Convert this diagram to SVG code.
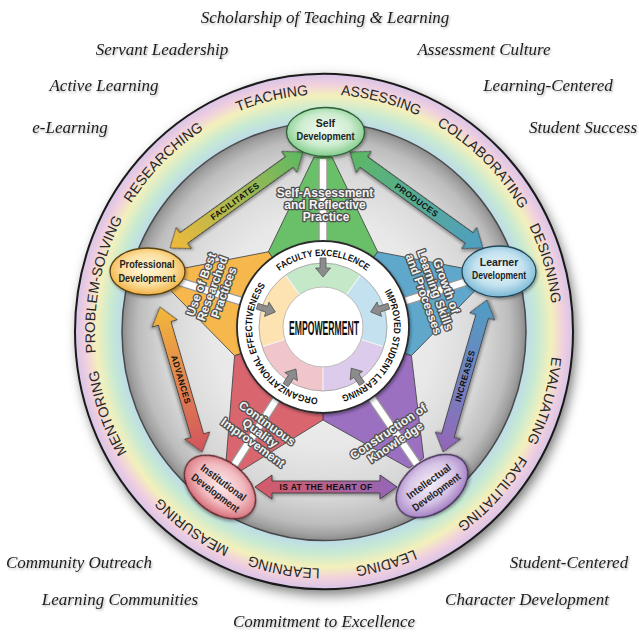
<svg xmlns="http://www.w3.org/2000/svg" width="639" height="633" viewBox="0 0 639 633">
<defs>
<style>
.sc{font-family:"Liberation Serif","DejaVu Serif",serif;font-style:italic;font-size:17px;fill:#1e1e1e;text-anchor:middle;filter:url(#tshadow)}
.rt{font-family:"Liberation Sans",Arial,sans-serif;font-size:14px;fill:#262626;text-anchor:middle}
.wt{font-family:"Liberation Sans",Arial,sans-serif;font-weight:bold;font-size:9.5px;fill:#111;text-anchor:middle}
.wl{font-family:"Liberation Sans",Arial,sans-serif;font-weight:bold;font-size:12px;fill:#f2f2f2;stroke:#505050;stroke-width:2.6px;paint-order:stroke;stroke-linejoin:round;text-anchor:middle}
.al{font-family:"Liberation Sans",Arial,sans-serif;font-weight:bold;font-size:8.5px;fill:#111;text-anchor:middle;letter-spacing:0.4px}
.nt{font-family:"Liberation Sans",Arial,sans-serif;font-weight:bold;font-size:10.5px;fill:#222;text-anchor:middle}
.arr{stroke:#3c3c3c;stroke-width:0.9;stroke-linejoin:round;filter:url(#ds)}
.wedge{stroke:#4a4a4a;stroke-width:0.9;stroke-linejoin:round}
.stripeB{stroke:#9a9a9a;stroke-width:9;stroke-linecap:butt}
.stripeW{stroke:#ffffff;stroke-width:6.5;stroke-linecap:butt}
.ga{fill:#8c8c8c;stroke:#5a5a5a;stroke-width:0.8;stroke-linejoin:round}
.node{stroke-width:1.3;filter:url(#ds)}
</style>
<filter id="rshadow" x="-10%" y="-10%" width="125%" height="125%">
<feDropShadow dx="3" dy="5" stdDeviation="6" flood-color="#000" flood-opacity="0.55"/>
</filter>
<filter id="ds" x="-20%" y="-20%" width="150%" height="150%">
<feDropShadow dx="1.2" dy="1.8" stdDeviation="1.4" flood-color="#000" flood-opacity="0.35"/>
</filter>
<filter id="tshadow" x="-5%" y="-20%" width="110%" height="150%">
<feDropShadow dx="1" dy="1.5" stdDeviation="0.8" flood-color="#000" flood-opacity="0.3"/>
</filter>
<radialGradient id="rainbow" gradientUnits="userSpaceOnUse" cx="0" cy="0" r="249">
<stop offset="0.81" stop-color="#bcdbe8"/>
<stop offset="0.86" stop-color="#c8ead2"/>
<stop offset="0.915" stop-color="#f3f0bb"/>
<stop offset="0.96" stop-color="#f1d0de"/>
<stop offset="1" stop-color="#d8c3e8"/>
</radialGradient>
<radialGradient id="inner" gradientUnits="userSpaceOnUse" cx="0" cy="0" r="202">
<stop offset="0" stop-color="#f3f3f3"/>
<stop offset="0.55" stop-color="#e8e8e8"/>
<stop offset="0.8" stop-color="#d6d6d6"/>
<stop offset="0.92" stop-color="#bdbdbd"/>
<stop offset="0.97" stop-color="#a2a2a2"/>
<stop offset="1" stop-color="#8a8a8a"/>
</radialGradient>
<linearGradient id="gFac" x1="0" y1="0" x2="1" y2="0"><stop offset="0" stop-color="#f2b93b"/><stop offset="1" stop-color="#5db863"/></linearGradient>
<linearGradient id="gProd" x1="0" y1="0" x2="1" y2="0"><stop offset="0" stop-color="#5db863"/><stop offset="1" stop-color="#4f9ec4"/></linearGradient>
<linearGradient id="gInc" x1="0" y1="0" x2="1" y2="0"><stop offset="0" stop-color="#9466b8"/><stop offset="1" stop-color="#4f9ec4"/></linearGradient>
<linearGradient id="gAdv" x1="0" y1="0" x2="1" y2="0"><stop offset="0" stop-color="#f2b93b"/><stop offset="1" stop-color="#d2535e"/></linearGradient>
<linearGradient id="gHeart" x1="0" y1="0" x2="1" y2="0"><stop offset="0" stop-color="#d65a66"/><stop offset="1" stop-color="#9466b8"/></linearGradient>
<radialGradient id="nSelf" cx="0.5" cy="0.45" r="0.55"><stop offset="0" stop-color="#f2fbf2"/><stop offset="0.6" stop-color="#cdeccf"/><stop offset="1" stop-color="#80cc8a"/></radialGradient>
<radialGradient id="nProf" cx="0.5" cy="0.45" r="0.55"><stop offset="0" stop-color="#fff8dc"/><stop offset="0.6" stop-color="#fbe0a0"/><stop offset="1" stop-color="#f1b144"/></radialGradient>
<radialGradient id="nLearn" cx="0.5" cy="0.45" r="0.55"><stop offset="0" stop-color="#eef8fc"/><stop offset="0.6" stop-color="#c3e2ef"/><stop offset="1" stop-color="#7ab8d5"/></radialGradient>
<radialGradient id="nInst" cx="0.5" cy="0.45" r="0.55"><stop offset="0" stop-color="#fdeaeb"/><stop offset="0.6" stop-color="#f1babf"/><stop offset="1" stop-color="#d66d77"/></radialGradient>
<radialGradient id="nIntel" cx="0.5" cy="0.45" r="0.55"><stop offset="0" stop-color="#f5eef9"/><stop offset="0.6" stop-color="#d6c3e6"/><stop offset="1" stop-color="#a37fc3"/></radialGradient>
<path id="garrow" d="M0,-3 L10,-3 L10,-7.5 L19,0 L10,7.5 L10,3 L0,3 Z"/>
<path id="ringPath" d="M-85.78,212.33 A229,229 0 1,1 85.78,-212.33 A229,229 0 1,1 -85.78,212.33"/>
<path id="wFac" d="M261.51,291.5 A71,71 0 0,1 384.49,291.5"/>
<path id="wImp" d="M377.39,281.36 A71,71 0 0,1 329.19,397.73"/>
<path id="wOrg" d="M329.19,397.73 A71,71 0 0,1 272.8,276.8"/>
</defs>

<rect width="639" height="633" fill="#ffffff"/>

<g id="outer-words">
<text class="sc" x="325" y="23">Scholarship of Teaching &amp; Learning</text>
<text class="sc" x="162" y="55">Servant Leadership</text>
<text class="sc" x="484" y="55">Assessment Culture</text>
<text class="sc" x="104" y="91">Active Learning</text>
<text class="sc" x="548" y="91">Learning-Centered</text>
<text class="sc" x="70" y="133">e-Learning</text>
<text class="sc" x="583" y="133">Student Success</text>
<text class="sc" x="79" y="568">Community Outreach</text>
<text class="sc" x="569" y="568">Student-Centered</text>
<text class="sc" x="120" y="605">Learning Communities</text>
<text class="sc" x="527" y="605">Character Development</text>
<text class="sc" x="324" y="627">Commitment to Excellence</text>
</g>

<g id="ring" transform="translate(324,331.5) scale(1,1.035)">
<circle r="249" fill="url(#rainbow)" filter="url(#rshadow)"/>
<circle r="249" fill="none" stroke="#1a1a1a" stroke-width="2"/>
<circle r="202" fill="url(#inner)" stroke="#4a4a4a" stroke-width="1.5"/>
<text class="rt"><textPath href="#ringPath" startOffset="40.28%">TEACHING</textPath></text>
<text class="rt"><textPath href="#ringPath" startOffset="47.86%">ASSESSING</textPath></text>
<text class="rt"><textPath href="#ringPath" startOffset="56.19%">COLLABORATING</textPath></text>
<text class="rt"><textPath href="#ringPath" startOffset="64.3%">DESIGNING</textPath></text>
<text class="rt"><textPath href="#ringPath" startOffset="73.58%">EVALUATING</textPath></text>
<text class="rt"><textPath href="#ringPath" startOffset="80.83%">FACILITATING</textPath></text>
<text class="rt"><textPath href="#ringPath" startOffset="89.58%">LEADING</textPath></text>
<text class="rt"><textPath href="#ringPath" startOffset="96.67%">LEARNING</textPath></text>
<text class="rt"><textPath href="#ringPath" startOffset="3.61%">MEASURING</textPath></text>
<text class="rt"><textPath href="#ringPath" startOffset="13.33%">MENTORING</textPath></text>
<text class="rt"><textPath href="#ringPath" startOffset="22.11%">PROBLEM-SOLVING</textPath></text>
<text class="rt"><textPath href="#ringPath" startOffset="31.53%">RESEARCHING</textPath></text>
</g>

<g id="beams">
<polygon class="wedge" fill="#6abf69" points="314,157 332,157 377.7,251.8 323,327 268.3,251.8"/>
<polygon class="wedge" fill="#f6b84c" points="173.1,270.3 167.7,287.5 234.6,355.7 323,327 268.3,251.8"/>
<polygon class="wedge" fill="#5fa8cc" points="472.8,270.1 478.2,287.3 411.4,355.7 323,327 377.7,251.8"/>
<polygon class="wedge" fill="#9b70c1" points="408.9,468.2 423.7,458 411.4,355.7 323,327 323,420"/>
<polygon class="wedge" fill="#d9656f" points="226.1,460.8 241.3,470.6 323,420 323,327 234.6,355.7"/>
<g>
<line class="stripeB" x1="323" y1="159" x2="323" y2="241"/>
<line class="stripeB" x1="480.3" y1="277.2" x2="405" y2="301.1"/>
<line class="stripeB" x1="418" y1="465.6" x2="371.6" y2="397.9"/>
<line class="stripeB" x1="232.1" y1="468.3" x2="276.4" y2="399.3"/>
<line class="stripeB" x1="165.6" y1="277.4" x2="241" y2="301.1"/>
<line class="stripeW" x1="323" y1="159" x2="323" y2="241"/>
<line class="stripeW" x1="480.3" y1="277.2" x2="405" y2="301.1"/>
<line class="stripeW" x1="418" y1="465.6" x2="371.6" y2="397.9"/>
<line class="stripeW" x1="232.1" y1="468.3" x2="276.4" y2="399.3"/>
<line class="stripeW" x1="165.6" y1="277.4" x2="241" y2="301.1"/>
</g>
</g>

<g id="empowerment">
<circle cx="323" cy="327" r="86" fill="#ffffff" stroke="#2a2a2a" stroke-width="1.8" filter="url(#ds)"/>
<path fill="#c4e8c8" d="M323,327 L285.38,275.22 A64,64 0 0,1 360.62,275.22 Z"/>
<path fill="#c3e1ee" d="M323,327 L360.62,275.22 A64,64 0 0,1 383.87,346.78 Z"/>
<path fill="#dccbea" d="M323,327 L383.87,346.78 A64,64 0 0,1 323,391 Z"/>
<path fill="#f1c6cb" d="M323,327 L323,391 A64,64 0 0,1 262.13,346.78 Z"/>
<path fill="#fde2b2" d="M323,327 L262.13,346.78 A64,64 0 0,1 285.38,275.22 Z"/>
<g stroke="#f4f4f4" stroke-width="1.2">
<line x1="323" y1="327" x2="285.38" y2="275.22"/>
<line x1="323" y1="327" x2="360.62" y2="275.22"/>
<line x1="323" y1="327" x2="383.87" y2="346.78"/>
<line x1="323" y1="327" x2="323" y2="391"/>
<line x1="323" y1="327" x2="262.13" y2="346.78"/>
</g>
<circle cx="323" cy="327" r="64" fill="none" stroke="#999" stroke-width="0.8"/>
<circle cx="323" cy="327" r="40" fill="#ffffff" stroke="#bdbdbd" stroke-width="1"/>
<use href="#garrow" class="ga" transform="translate(323,258) rotate(90)"/>
<use href="#garrow" class="ga" transform="translate(388.8,306.2) rotate(162.44)"/>
<use href="#garrow" class="ga" transform="translate(362,383.9) rotate(235.57)"/>
<use href="#garrow" class="ga" transform="translate(285.65,385) rotate(302.77)"/>
<use href="#garrow" class="ga" transform="translate(257.2,306.25) rotate(17.5)"/>
<text x="324" y="335" font-family="Liberation Sans, Arial, sans-serif" font-weight="bold" font-size="21" fill="#111" text-anchor="middle" textLength="70" lengthAdjust="spacingAndGlyphs">EMPOWERMENT</text>
<text class="wt"><textPath href="#wFac" startOffset="50%" textLength="94" lengthAdjust="spacingAndGlyphs">FACULTY EXCELLENCE</textPath></text>
<text class="wt"><textPath href="#wImp" startOffset="50%" textLength="130" lengthAdjust="spacingAndGlyphs">IMPROVED STUDENT LEARNING</textPath></text>
<text class="wt"><textPath href="#wOrg" startOffset="50%" textLength="151" lengthAdjust="spacingAndGlyphs">ORGANIZATIONAL EFFECTIVENESS</textPath></text>
</g>

<g id="beam-labels">
<text class="wl" x="325" y="197">Self-Assessment</text>
<text class="wl" x="325" y="209">and Reflective</text>
<text class="wl" x="326" y="221">Practice</text>
<g transform="translate(212.5,288.5) rotate(-70)">
<text class="wl" x="0" y="-8">Use of Best</text>
<text class="wl" x="0" y="4">Researched</text>
<text class="wl" x="0" y="16">Practices</text>
</g>
<g transform="translate(435,290) rotate(70)">
<text class="wl" x="0" y="-8">Growth of</text>
<text class="wl" x="0" y="4">Learning Skills</text>
<text class="wl" x="0" y="16">and Processes</text>
</g>
<g transform="translate(260,433) rotate(36)">
<text class="wl" x="0" y="-8">Continuous</text>
<text class="wl" x="0" y="4">Quality</text>
<text class="wl" x="0" y="16">Improvement</text>
</g>
<g transform="translate(392,437) rotate(-34)">
<text class="wl" x="0" y="-2.5">Construction of</text>
<text class="wl" x="0" y="10.5">Knowledge</text>
</g>
</g>

<g id="connectors">
<g transform="translate(236.5,200) rotate(-35.8)">
<path class="arr" fill="url(#gFac)" d="M-82,0 L-65,-13 L-65,-6.5 L65,-6.5 L65,-13 L82,0 L65,13 L65,6.5 L-65,6.5 L-65,13 Z"/>
<text class="al" x="-2" y="3">FACILITATES</text>
</g>
<g transform="translate(416.5,200) rotate(35.8)">
<path class="arr" fill="url(#gProd)" d="M-82,0 L-65,-13 L-65,-6.5 L65,-6.5 L65,-13 L82,0 L65,13 L65,6.5 L-65,6.5 L-65,13 Z"/>
<text class="al" x="0" y="3">PRODUCES</text>
</g>
<g transform="translate(465,376) rotate(-73.9)">
<path class="arr" fill="url(#gInc)" d="M-79,0 L-62,-13 L-62,-6.5 L62,-6.5 L62,-13 L79,0 L62,13 L62,6.5 L-62,6.5 L-62,13 Z"/>
<text class="al" x="0" y="3">INCREASES</text>
</g>
<g transform="translate(181,379.5) rotate(73.8)">
<path class="arr" fill="url(#gAdv)" d="M-75.5,0 L-58.5,-13 L-58.5,-6.5 L58.5,-6.5 L58.5,-13 L75.5,0 L58.5,13 L58.5,6.5 L-58.5,6.5 L-58.5,13 Z"/>
<text class="al" x="0" y="3">ADVANCES</text>
</g>
<g transform="translate(326,487)">
<path class="arr" fill="url(#gHeart)" d="M-71,0 L-54,-12 L-54,-6 L54,-6 L54,-12 L71,0 L54,12 L54,6 L-54,6 L-54,12 Z"/>
<text class="al" x="0" y="3">IS AT THE HEART OF</text>
</g>
</g>

<g id="self-development">
<ellipse class="node" cx="325.5" cy="132" rx="39" ry="24.5" fill="url(#nSelf)" stroke="#2d5e34"/>
<text class="nt" x="325.5" y="127">Self</text>
<text class="nt" x="325.5" y="140" textLength="58" lengthAdjust="spacingAndGlyphs">Development</text>
</g>
<g id="professional-development">
<ellipse class="node" cx="147.5" cy="271.5" rx="37.5" ry="23.5" fill="url(#nProf)" stroke="#5a4214"/>
<text class="nt" x="147" y="268" textLength="55" lengthAdjust="spacingAndGlyphs">Professional</text>
<text class="nt" x="147" y="282" textLength="57" lengthAdjust="spacingAndGlyphs">Development</text>
</g>
<g id="learner-development">
<ellipse class="node" cx="499" cy="271.5" rx="37" ry="25.5" fill="url(#nLearn)" stroke="#24495a"/>
<text class="nt" x="499" y="266">Learner</text>
<text class="nt" x="499" y="279" textLength="54" lengthAdjust="spacingAndGlyphs">Development</text>
</g>
<g id="institutional-development" transform="translate(220,487) rotate(37)">
<ellipse class="node" cx="0" cy="0" rx="40" ry="26" fill="url(#nInst)" stroke="#5a2226"/>
<text class="nt" x="0" y="-2" textLength="54" lengthAdjust="spacingAndGlyphs">Institutional</text>
<text class="nt" x="0" y="11" textLength="57" lengthAdjust="spacingAndGlyphs">Development</text>
</g>
<g id="intellectual-development" transform="translate(432,486) rotate(-36)">
<ellipse class="node" cx="0" cy="0" rx="40" ry="26" fill="url(#nIntel)" stroke="#3d2a4f"/>
<text class="nt" x="0" y="-2" textLength="52" lengthAdjust="spacingAndGlyphs">Intellectual</text>
<text class="nt" x="0" y="11" textLength="57" lengthAdjust="spacingAndGlyphs">Development</text>
</g>
</svg>
